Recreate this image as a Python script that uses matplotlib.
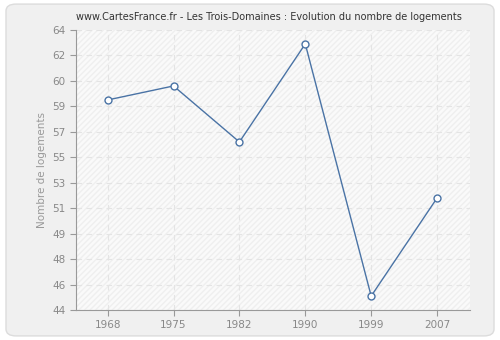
import numpy as np
import matplotlib
matplotlib.use("Agg")
import matplotlib.pyplot as plt
from matplotlib.patches import FancyBboxPatch

# data
years = ["1968", "1975", "1982", "1990", "1999", "2007"]
logements = [59, 60, 56, 63, 45, 52]
ytick_vals = np.linspace(44, 64, 12)
ytick_labels = ["44", "46", "48", "49", "51", "53", "55", "57", "59", "60", "62", "64"]

fig = plt.figure(figsize=(5, 3.4), dpi=100)
fig.patch.set_facecolor("white")

# rounded grey card behind everything
card = FancyBboxPatch((0.012, 0.012), 0.976, 0.976,
                      boxstyle="round,pad=0,rounding_size=0.02",
                      transform=fig.transFigure, facecolor="#f0f0f0",
                      edgecolor="#dcdcdc", linewidth=1, zorder=-10)
fig.patches.append(card)

ax = fig.add_axes([0.152, 0.088, 0.788, 0.824])
ax.set_facecolor("#fafafa")
ax.patch.set_hatch("//////")
ax.patch.set_edgecolor("#efefef")
ax.patch.set_linewidth(0)

x = np.arange(len(years))
ax.plot(x, logements, color="#4a73a5", linewidth=1, marker="o",
        markersize=5, markerfacecolor="white", markeredgecolor="#4a73a5",
        markeredgewidth=1, zorder=3)

ax.set_xlim(-0.48, 5.5)
ax.set_ylim(44, 64)
ax.set_xticks(x)
ax.set_xticklabels(years)
ax.set_yticks(ytick_vals)
ax.set_yticklabels(ytick_labels)

ax.grid(True, color="#e4e4e4", linestyle=(0, (5, 4)), linewidth=0.8)
ax.set_axisbelow(True)

for s in ["top", "right"]:
    ax.spines[s].set_visible(False)
for s in ["left", "bottom"]:
    ax.spines[s].set_color("#999999")
ax.tick_params(colors="#999999", labelcolor="#888888", labelsize=7.5, length=4)

ax.set_ylabel("Nombre de logements", color="#999999", fontsize=7.5)
ax.set_title("www.CartesFrance.fr - Les Trois-Domaines : Evolution du nombre de logements",
             fontsize=7, color="#333333", pad=7, x=0.49)

fig.savefig("out.png", dpi=100, facecolor=fig.get_facecolor())
